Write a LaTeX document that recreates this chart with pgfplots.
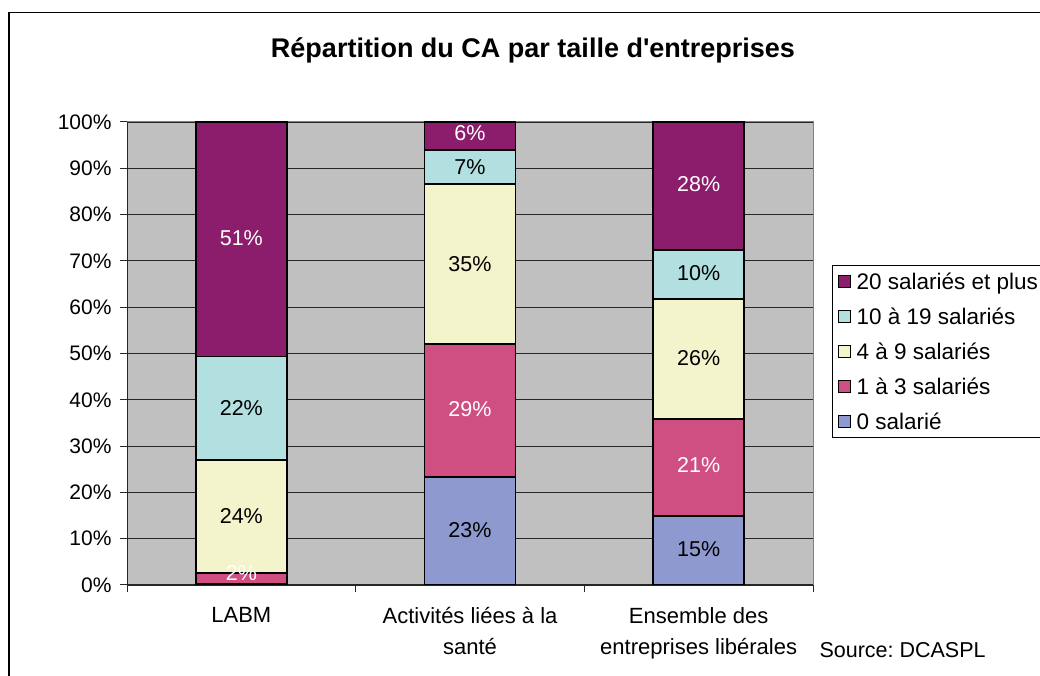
\documentclass[border=0pt]{standalone}
\usepackage{pgfplots}
\pgfplotsset{compat=1.18}
\usepackage{fontspec}
\setmainfont{Liberation Sans}[Ligatures=TeXOff]
\definecolor{plotgray}{HTML}{C0C0C0}
\definecolor{bordergray}{HTML}{808080}
\definecolor{cZero}{HTML}{8E9ACF}
\definecolor{cOne}{HTML}{D04F82}
\definecolor{cFour}{HTML}{F3F4CC}
\definecolor{cTen}{HTML}{B2E0E0}
\definecolor{cTwenty}{HTML}{8C1C6C}
\frenchspacing
\begin{document}
\begin{tikzpicture}[x=1pt,y=1pt]
\useasboundingbox (0,0) rectangle (1040,676);
\clip (0,0) rectangle (1040,676);
\draw[line width=1.3pt] (9,-20) rectangle (1100,663.5);
\node[anchor=base, font=\fontsize{27}{32}\selectfont\bfseries] at (533,618) {Répartition du CA par taille d'entreprises};
\node[anchor=base west, font=\fontsize{21.5}{26}\selectfont] at (816,18) {Source: DCASPL};
\begin{axis}[
  at={(127pt,91pt)}, anchor=south west,
  width=686pt, height=463pt, scale only axis,
  xmin=-0.5, xmax=2.5, ymin=0, ymax=100,
  ybar stacked, bar width=91pt,
  axis background/.style={fill=plotgray, draw=bordergray, line width=1pt},
  axis lines=left,
  axis line style={-, line width=1pt, black!85},
  tick align=outside,
  major tick length=7pt,
  tick style={black!85, line width=1pt},
  ytick={0,10,...,100},
  yticklabels={0\%,10\%,20\%,30\%,40\%,50\%,60\%,70\%,80\%,90\%,100\%},
  yticklabel style={font=\fontsize{21}{25}\selectfont, xshift=-5pt},
  ymajorgrids,
  grid style={black!85, line width=0.8pt},
  xtick={-0.5,0.5,1.5,2.5},
  xticklabels={},
  extra x ticks={0,1,2},
  extra x tick labels={LABM,{Activités liées à la\\santé},{Ensemble des\\entreprises libérales}},
  extra x tick style={major tick length=0pt, grid=none,
     tick label style={font=\fontsize{22}{31}\selectfont, align=center, yshift=-19pt}},
  legend reversed,
  legend cell align=left,
  legend style={at={(1.028,0.691)}, anchor=north west, draw=black, line width=0.8pt,
     font=\fontsize{22.5}{27}\selectfont, row sep=13pt, inner sep=5pt,
     /tikz/every odd column/.append style={column sep=4pt}},
  legend image code/.code={\draw[#1,draw=black,line width=1pt] (0pt,-6pt) rectangle (12pt,6pt);},
  every axis plot/.append style={draw=black, line width=1.5pt},
]
\addplot[fill=cZero] coordinates {(0,0.3) (1,23.3) (2,14.9)};
\addplot[fill=cOne] coordinates {(0,2.3) (1,28.8) (2,21.0)};
\addplot[fill=cFour] coordinates {(0,24.4) (1,34.5) (2,25.9)};
\addplot[fill=cTen] coordinates {(0,22.3) (1,7.4) (2,10.6)};
\addplot[fill=cTwenty] coordinates {(0,50.7) (1,6.0) (2,27.6)};
\legend{0 salarié,1 à 3 salariés,4 à 9 salariés,10 à 19 salariés,20 salariés et plus}
\end{axis}
\begin{axis}[
  at={(127pt,91pt)}, anchor=south west,
  width=686pt, height=463pt, scale only axis,
  xmin=-0.5, xmax=2.5, ymin=0, ymax=100,
  hide axis,
  nodes near coords style={anchor=center, font=\fontsize{21.5}{26}\selectfont},
]
\addplot[draw=none, mark=none, nodes near coords, point meta=explicit symbolic,
  nodes near coords style={text=white}] table[meta=lab] {
x y lab
0 2.6 2\%
0 74.9 51\%
1 37.9 29\%
1 97.6 6\%
2 25.8 21\%
2 86.6 28\%
};
\addplot[draw=none, mark=none, nodes near coords, point meta=explicit symbolic,
  nodes near coords style={text=black}] table[meta=lab] {
x y lab
0 38.3 22\%
0 14.9 24\%
1 11.9 23\%
1 69.4 35\%
1 90.2 7\%
2 7.7 15\%
2 49.1 26\%
2 67.3 10\%
};
\end{axis}
\end{tikzpicture}
\end{document}
